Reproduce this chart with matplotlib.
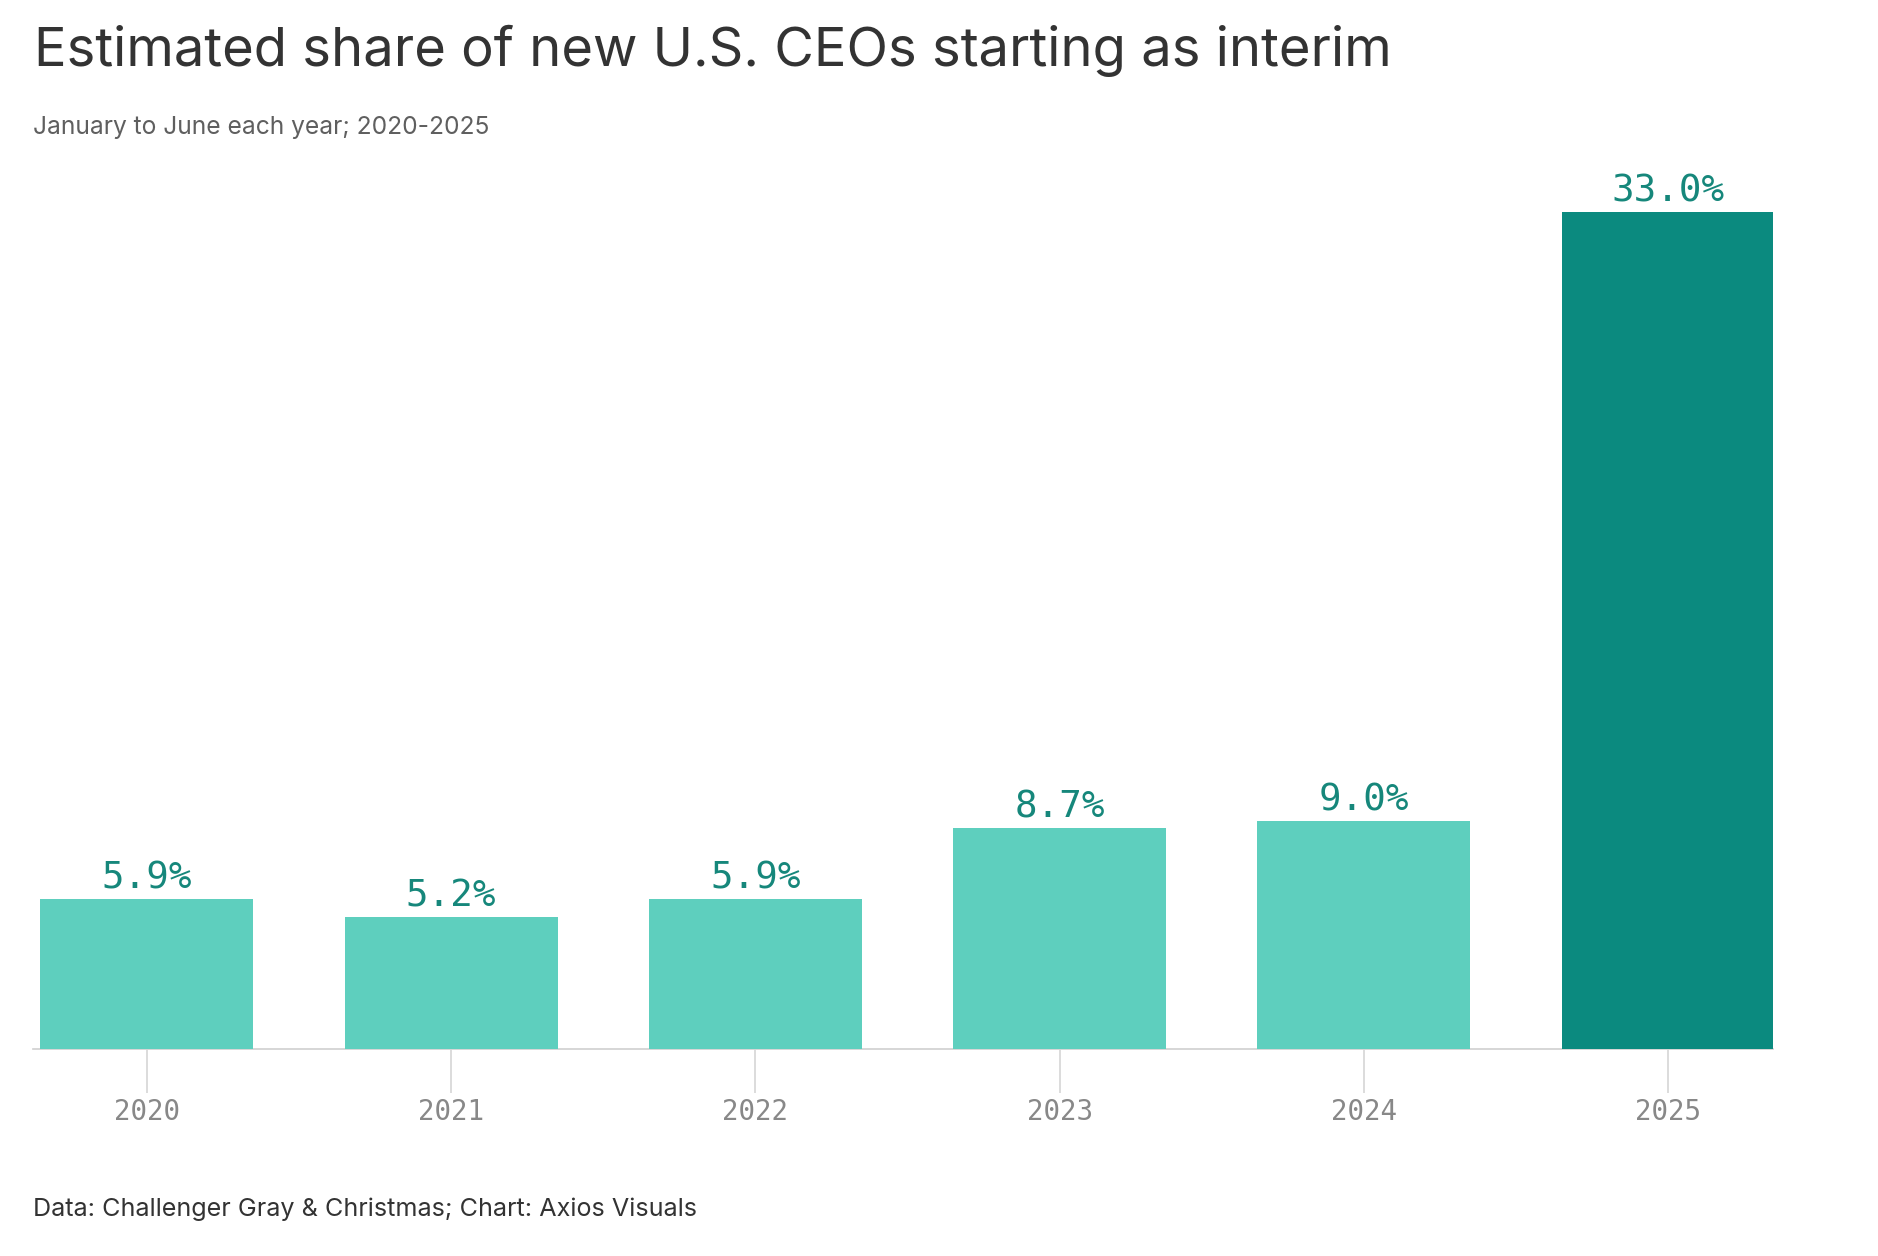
import matplotlib
matplotlib.use('Agg')
import matplotlib.pyplot as plt

# data
years = ['2020', '2021', '2022', '2023', '2024', '2025']
share = [5.9, 5.2, 5.9, 8.7, 9.0, 33.0]
labels = ['5.9%', '5.2%', '5.9%', '8.7%', '9.0%', '33.0%']

W, H = 1878, 1256
LIGHT = '#5ecfbe'
DARK = '#0b8a7f'
LABEL = '#16877b'

plt.rcParams['font.family'] = ['Inter', 'DejaVu Sans']

fig = plt.figure(figsize=(W / 100, H / 100), dpi=100)
fig.patch.set_facecolor('white')

# axes placed in pixel terms of the reference
ax = fig.add_axes([33 / W, (H - 1049) / H, (1773 - 33) / W, (1049 - 212) / H])

colors = [LIGHT] * (len(years) - 1) + [DARK]
x = range(len(years))
bars = ax.bar(x, share, width=0.7, color=colors, linewidth=0, zorder=2)

for b, lab in zip(bars, labels):
    ax.annotate(lab, (b.get_x() + b.get_width() / 2, b.get_height()),
                xytext=(0, 7.5), textcoords='offset points',
                ha='center', va='baseline', fontsize=27,
                family='DejaVu Sans Mono', color=LABEL, annotation_clip=False)

ax.set_xlim(-0.374, 5.345)
ax.set_ylim(0, 33.0)

ax.set_xticks(list(x))
ax.set_xticklabels(years, family='DejaVu Sans Mono', fontsize=19.8, color='#888888')
ax.tick_params(axis='x', length=31.5, width=1.2, color='#d6d6d6', pad=4)
ax.set_yticks([])

for s in ['top', 'right', 'left']:
    ax.spines[s].set_visible(False)
ax.spines['bottom'].set_color('#cfcfcf')
ax.spines['bottom'].set_linewidth(1.2)
ax.spines['bottom'].set_zorder(1)

# title, subtitle, footer
fig.text(34 / W, 1 - 66 / H, 'Estimated share of new U.S. CEOs starting as interim',
         fontsize=39.1, color='#333333', va='baseline', ha='left')
fig.text(33 / W, 1 - 134 / H, 'January to June each year; 2020-2025',
         fontsize=17.7, color='#5f5f5f', va='baseline', ha='left')
fig.text(33 / W, 1 - 1216 / H, 'Data: Challenger Gray & Christmas; Chart: Axios Visuals',
         fontsize=18.1, color='#333333', va='baseline', ha='left')

fig.savefig('out.png', dpi=100, facecolor='white')
